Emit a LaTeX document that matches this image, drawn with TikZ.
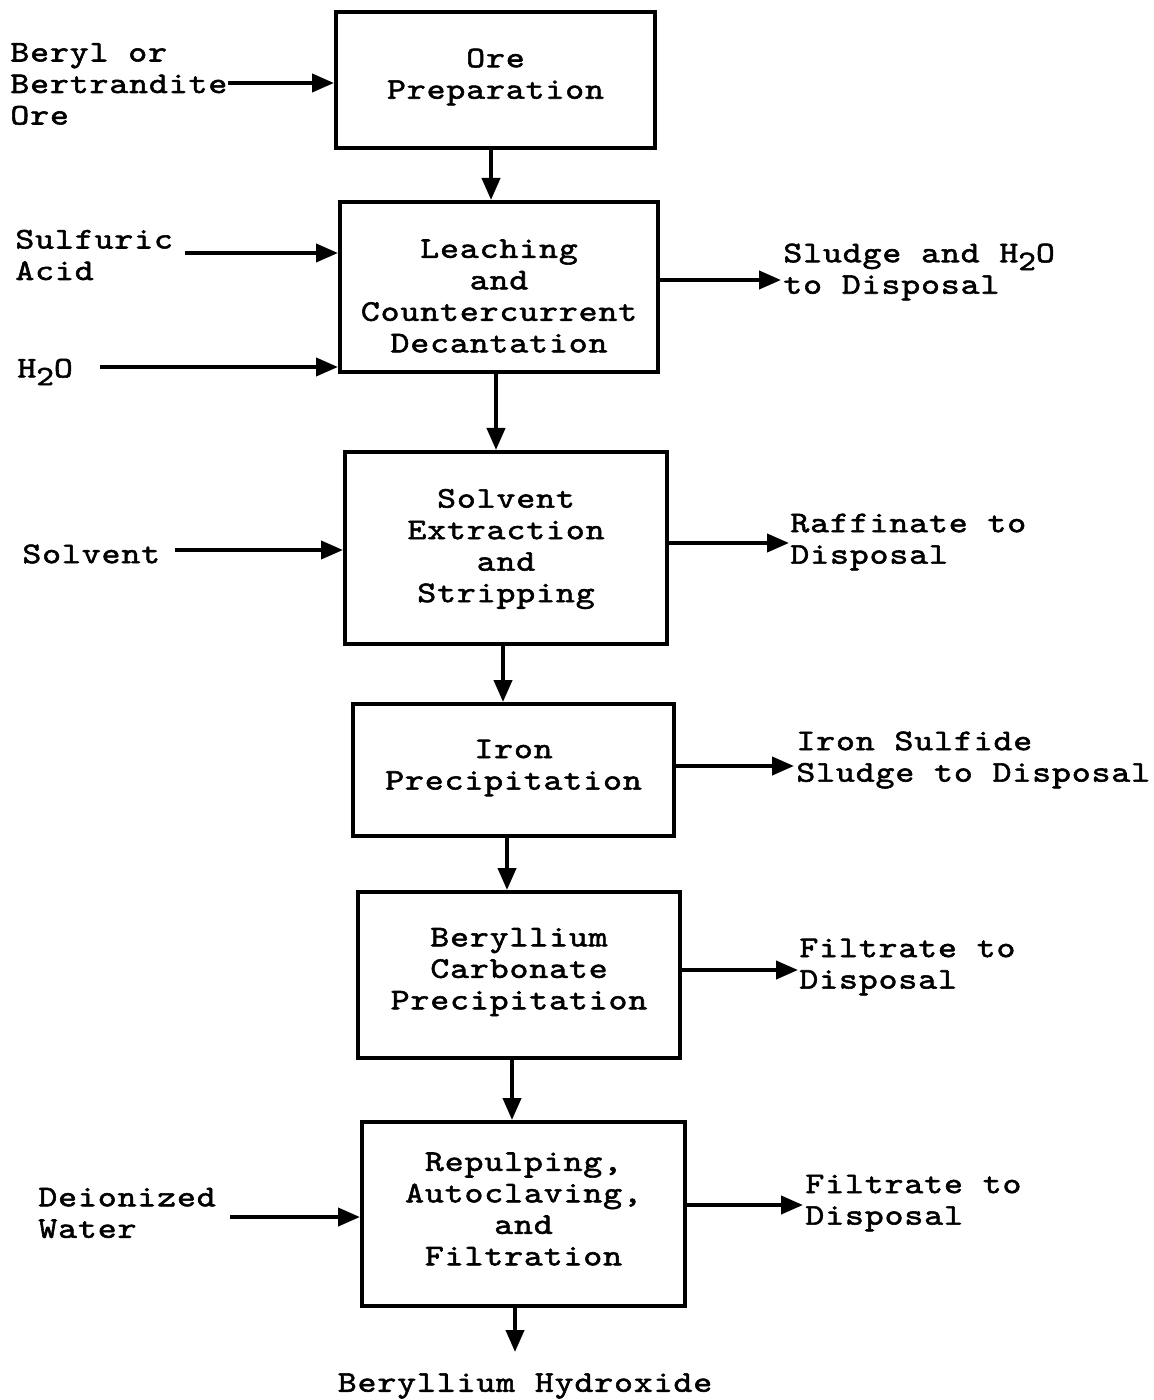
\documentclass[tikz,border=0pt]{standalone}
\usepackage{fontspec}
\setmainfont{lmmono10-regular.otf}[FakeStretch=1.2,LetterSpace=3,FakeBold=1.8]
\usetikzlibrary{arrows.meta}
\newcommand{\sub}[1]{\raisebox{-0.6ex}{\fontsize{14}{14}\selectfont #1}}
\tikzset{
  every node/.style={font=\fontsize{15}{15.75}\selectfont, inner sep=0pt},
  procbox/.style={draw, line width=2pt},
  boxtext/.style={align=center},
  lbl/.style={align=left, anchor=west},
  arr/.style={line width=2pt, -{Triangle[length=11pt,width=9pt]}},
}
\begin{document}
\begin{tikzpicture}[x=0.5pt,y=-0.5pt]
\useasboundingbox (0,0) rectangle (1153,1400);

% process boxes
\node[procbox, minimum width=159.5pt, minimum height=68pt] (b1) at (495.5,80) {};
\node[procbox, minimum width=159pt, minimum height=85pt] (b2) at (499,287) {};
\node[procbox, minimum width=161pt, minimum height=96pt] (b3) at (506,548) {};
\node[procbox, minimum width=160.5pt, minimum height=66pt] (b4) at (513.5,770) {};
\node[procbox, minimum width=161pt, minimum height=83pt] (b5) at (519,975) {};
\node[procbox, minimum width=161.5pt, minimum height=92pt] (b6) at (523.5,1214) {};

\node[boxtext] (t1) at (495.5,77) {Ore\\Preparation};
\node[boxtext] (t2) at (499,296) {Leaching\\and\\Countercurrent\\Decantation};
\node[boxtext] (t3) at (506,549) {Solvent\\Extraction\\and\\Stripping};
\node[boxtext] (t4) at (513.5,768) {Iron\\Precipitation};
\node[boxtext] (t5) at (519,972) {Beryllium\\Carbonate\\Precipitation};
\node[boxtext] (t6) at (523.5,1209) {Repulping,\\Autoclaving,\\and\\Filtration};

% vertical flow
\draw[arr] ([xshift=-2.25pt]b1.south) -- ([xshift=-2.25pt]b1.south |- b2.north);
\draw[arr] ([xshift=-1.5pt]b2.south) -- ([xshift=-1.5pt]b2.south |- b3.north);
\draw[arr] ([xshift=-1.5pt]b3.south) -- ([xshift=-1.5pt]b3.south |- b4.north);
\draw[arr] ([xshift=-3.25pt]b4.south) -- ([xshift=-3.25pt]b4.south |- b5.north);
\draw[arr] ([xshift=-3.5pt]b5.south) -- ([xshift=-3.5pt]b5.south |- b6.north);
\node (prod) at (525,1386) {Beryllium Hydroxide};
\coordinate (prodtip) at (515,1352);
\draw[arr] (prodtip |- b6.south) -- (prodtip);

% inputs
\node[lbl] (i1) at (10,84) {Beryl or\\Bertrandite\\Ore};
\coordinate (i1s) at (228,83);
\draw[arr] (i1s) -- (i1s -| b1.west);

\node[lbl] (i2) at (15,255) {Sulfuric\\Acid};
\coordinate (i2s) at (185,253);
\draw[arr] (i2s) -- (i2s -| b2.west);

\node[lbl] (i3) at (17,372) {H\sub{2}O};
\coordinate (i3s) at (100,367);
\draw[arr] (i3s) -- (i3s -| b2.west);

\node[lbl] (i4) at (22,554) {Solvent};
\coordinate (i4s) at (175,550);
\draw[arr] (i4s) -- (i4s -| b3.west);

\node[lbl] (i5) at (38,1213) {Deionized\\Water};
\coordinate (i5s) at (230,1217);
\draw[arr] (i5s) -- (i5s -| b6.west);

% outputs
\node[lbl] (o2) at (783,272) {Sludge and H\sub{2}O\\to Disposal};
\coordinate (o2t) at (781,280);
\draw[arr] (o2t -| b2.east) -- (o2t);

\node[lbl] (o3) at (790,542) {Raffinate to\\Disposal};
\coordinate (o3t) at (789,543);
\draw[arr] (o3t -| b3.east) -- (o3t);

\node[lbl] (o4) at (796,760) {Iron Sulfide\\Sludge to Disposal};
\coordinate (o4t) at (794,766);
\draw[arr] (o4t -| b4.east) -- (o4t);

\node[lbl] (o5) at (799,967) {Filtrate to\\Disposal};
\coordinate (o5t) at (798,970);
\draw[arr] (o5t -| b5.east) -- (o5t);

\node[lbl] (o6) at (805,1203) {Filtrate to\\Disposal};
\coordinate (o6t) at (803,1205);
\draw[arr] (o6t -| b6.east) -- (o6t);
\end{tikzpicture}
\end{document}
